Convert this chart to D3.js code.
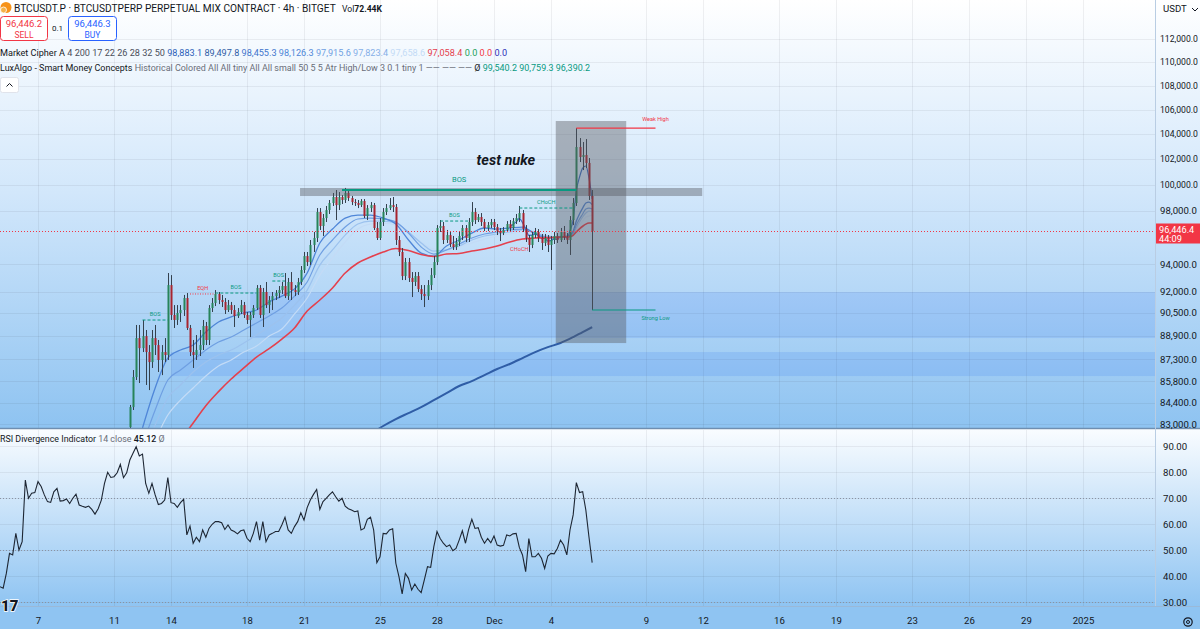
<!DOCTYPE html>
<html><head><meta charset="utf-8">
<script src="https://cdn.jsdelivr.net/npm/d3@7"></script>
<style>
html,body{margin:0;padding:0;background:#fff;overflow:hidden}
svg{display:block;font-family:Roboto,"Noto Sans",sans-serif}
</style></head><body>
<svg id="c" width="1200" height="629"></svg>
<script>
// ---------------- DATA ----------------
const candleStart = "2024-11-11T20:00:00Z";   // 4h bars
const opens = [82800,84100,86090,88740,88050,88880,87780,87100,88740,88260,
87240,87780,87580,92480,90350,90000,90490,90700,91550,89440,
87780,87580,87920,88260,89580,88610,90840,91200,91840,91410,
91270,90700,91050,90700,90280,90560,91050,90350,90000,90350,
90840,92270,90350,91980,91050,91410,91690,91910,92120,92410,
91690,92700,92120,91980,92700,93570,94590,94150,95410,95930,
97890,96830,97430,98040,98580,99040,98420,99040,98810,99350,
98960,98650,98580,98420,98730,97580,98190,98420,96680,95930,
97130,97890,98190,98420,98270,95780,94890,93130,94150,92990,
92700,93130,92190,91840,91690,92480,93200,94150,96680,96830,
95780,96150,95480,95260,95630,96080,96680,95930,97130,97890,
97280,97510,97130,96680,96900,97130,96750,96450,96300,96530,
96980,96680,97200,97430,97810,96600,95930,95410,96150,96380,
95930,95560,95930,95410,95780,96080,95780,96380,96000,95780,
97280,98580,102970,102170,102330,101700,99120];
const closes = [84100,86090,88740,88050,88880,87780,87100,88740,88260,87240,
87780,87580,92480,90350,90000,90490,90700,91550,89440,87780,
87580,87920,88260,89580,88610,90840,91200,91840,91410,91270,
90700,91050,90700,90280,90560,91050,90350,90000,90350,90840,
92270,90350,91980,91050,91410,91690,91910,92120,92410,91690,
92700,92120,91980,92700,93570,94590,94150,95410,95930,97890,
96830,97430,98040,98580,99040,98420,99040,98810,99350,98960,
98650,98580,98420,98730,97580,98190,98420,96680,95930,97130,
97890,98190,98420,98270,95780,94890,93130,94150,92990,92700,
93130,92190,91840,91690,92480,93200,94150,96680,96830,95780,
96150,95480,95260,95630,96080,96680,95930,97130,97890,97280,
97510,97130,96680,96900,97130,96750,96450,96300,96530,96980,
96680,97200,97430,97810,96600,95930,95410,96150,96380,95930,
95560,95930,95410,95780,96080,95780,96380,96000,95780,97280,
98580,102970,102170,102330,101700,99120,96446.4];
const highs = [84240,86560,89650,89650,90000,89300,88260,89300,89650,88610,
88260,88740,93350,93200,91050,91050,91050,91770,91910,89650,
88610,88950,89300,90000,89860,91050,91550,92120,91980,91770,
91550,91410,91270,91050,90840,91410,91270,90560,90560,91050,
92480,92480,92270,92700,91690,91980,92120,92410,92700,93350,
92990,93420,92480,92990,93860,94890,94890,95780,96380,98190,
98190,97740,98350,98810,99350,99580,99420,99190,99740,99580,
99120,98880,98810,98880,98880,98420,98650,98580,97130,97430,
98190,98500,98960,99040,98500,96080,95180,94450,94450,93420,
93420,93420,92480,92480,92840,93710,94590,96900,97280,97130,
96530,96380,96080,95930,96380,96900,96900,97430,98650,98190,
97740,97810,97360,97130,97360,97360,96980,96680,96750,97200,
97280,97430,97740,98350,98040,96900,96150,96380,96680,96600,
96230,96230,96150,96080,96380,96300,96680,96830,96300,97580,
98960,104500,103690,103370,103610,102090,99580];
const lows = [81970,83910,85890,85690,87780,85560,85220,86700,87580,86430,
86220,87100,87240,90000,89440,89650,89860,90280,89300,87510,
86700,87240,87510,87920,88260,88260,90560,90980,91120,90910,
90420,90560,90420,89510,90140,90420,90140,89720,88810,90140,
90700,90140,89510,90840,90490,90700,91410,91550,91840,91550,
91410,91410,91690,91770,92480,93350,93860,93930,94890,95630,
96530,96080,97130,97740,98350,97280,98040,98500,98580,98730,
98420,98350,98190,98270,97430,97280,97890,96530,95780,95780,
96830,97660,98040,97890,95410,94590,92840,92840,92700,91620,
92410,91980,91410,90910,91410,92120,92990,93930,96380,95480,
95560,95260,95040,95040,95330,95780,95630,95630,96830,96980,
97130,96830,96450,96450,96680,96530,96150,95700,96150,96380,
96380,96530,96980,97130,96380,95630,94890,95180,95930,95630,
95040,95330,94890,93570,95480,95560,95630,95780,95480,94670,
96900,98350,101770,101140,101300,98810,90700];

// Market Cipher A ribbon (bar index -> value)
const ribbonBars = [4,8,12,16,20,24,28,32,36,40,44,48,52,56,60,64,68,72,76,80,84,88,92,96,100,104,108,112,116,120,124,128,132,136,139,140,141,142,143,144,145,146];
const ema17 = [82740,85360,87370,87920,88260,89160,89860,90210,90490,90700,91270,91690,92190,93350,95560,96600,97430,97660,97660,97430,96980,95780,94810,94590,95330,95780,96300,96680,96600,96680,96750,96230,95930,96000,96150,96450,97200,97740,98190,98580,98650,98455.3];
const ema22 = [81650,83910,85890,86560,87240,87920,88470,88810,89300,89790,90280,90840,91690,92700,94670,95780,96750,97360,97430,97360,97130,96300,95260,94740,95040,95480,95930,96230,96380,96530,96600,96300,96000,96000,96080,96300,96900,97360,97740,98120,98190,98126.3];
const ema26 = [81020,82930,84700,85560,86430,87100,87580,87920,88400,88950,89510,90140,91050,92120,93930,95040,96150,96980,97200,97200,97050,96380,95560,94960,95040,95330,95780,96080,96230,96380,96530,96300,96080,96000,96040,96230,96680,97130,97510,97810,97960,97915.6];
const ema32 = [80390,81970,83580,84560,85360,86160,86830,87240,87780,88190,88880,89370,90420,91550,93200,94450,95630,96600,96980,97050,96900,96300,95630,95110,95040,95260,95560,95850,96080,96230,96380,96300,96080,96000,96000,96150,96530,96900,97200,97510,97580,97658.6];
const fastBars = [120,121,122,123,124,125,126,127,128,129,130,131,132,133,134,135,136,137,138,139,140,141,142,143,144,145,146];
const ema4 = [96770,96940,97140,97410,97080,96620,96130,96140,96230,96110,95890,95900,95700,95730,95870,95830,96050,96030,95930,96470,97300,99530,100580,101290,101460,100510,98883.1];
const ema50Bars = [16,20,24,28,32,36,40,44,48,52,56,60,64,68,72,76,80,84,88,92,96,100,104,108,112,116,120,124,128,132,136,139,140,141,142,143,144,145,146];
const ema50 = [81970,83060,84190,85120,85960,86700,87440,88010,88670,89440,90630,91410,92270,93350,94080,94520,94890,95150,95000,94700,94560,94740,94780,94960,95110,95330,95630,95850,95930,95960,95980,96030,96130,96390,96610,96810,96970,97050,97058.4];
const ema200Bars = [76,80,84,88,92,96,100,104,108,112,116,120,124,128,132,136,140,143,146];
const ema200 = [82350,82870,83320,83710,84100,84560,85020,85490,85820,86220,86630,86970,87370,87780,88120,88400,88810,89160,89497.8];

// RSI (14, close) per 4h bar
const rsiStart = "2024-11-05T00:00:00Z";
const rsiValues = [35.9,35.3,41.0,48.7,48.1,56.4,50.0,53.2,76.9,69.9,
71.8,72.1,76.3,74.4,71.2,68.6,68.3,72.4,73.7,68.8,
69.0,69.6,67.9,69.9,71.5,67.3,66.8,66.4,66.9,65.6,
63.8,65.9,69.2,75.6,79.9,77.9,78.2,79.7,82.9,77.8,
79.7,84.6,87.2,89.7,86.2,86.9,75.6,71.8,75.6,71.2,
67.5,67.9,69.2,77.9,68.2,67.9,66.4,68.2,69.5,55.8,
59.2,52.6,54.9,53.2,57.7,54.9,58.3,59.9,60.9,60.9,
60.5,57.9,59.6,57.7,57.1,56.2,57.4,57.7,54.5,53.2,
56.4,60.9,53.8,60.9,53.2,55.8,56.4,57.1,57.1,59.6,
62.6,57.7,56.4,59.0,60.9,64.3,61.5,66.3,69.2,71.4,
73.3,65.6,68.6,69.9,71.2,72.4,70.5,68.8,69.9,66.9,
65.9,65.4,64.7,65.0,57.7,58.3,61.8,62.6,57.7,45.1,
47.4,56.4,56.2,57.7,58.2,44.9,39.7,33.1,41.0,39.1,
34.6,36.9,34.9,33.6,38.5,43.6,43.3,51.3,57.1,54.4,
52.6,51.3,51.9,49.7,50.6,53.8,57.4,52.6,57.9,61.8,
58.3,58.6,54.9,52.6,54.4,52.8,55.4,51.9,51.5,51.8,
55.8,55.4,56.2,56.4,51.0,48.1,41.7,54.4,47.4,47.4,
48.7,46.8,42.9,47.7,48.7,48.5,50.6,53.8,51.9,48.1,
57.7,63.5,75.9,72.1,72.4,65.4,54.9,45.12];

// Axis ticks
const priceTicks = [112000,110000,108000,106000,104000,102000,100000,98000,94000,92000,90500,88900,87300,85800,84400,83000];
const rsiTicks = [90,80,70,60,50,40,30];
const rsiBands = [70,50,30];
const timeTicks = ["2024-11-07","2024-11-11","2024-11-14","2024-11-18","2024-11-21","2024-11-25","2024-11-28","2024-12-01","2024-12-04","2024-12-09","2024-12-12","2024-12-16","2024-12-19","2024-12-23","2024-12-26","2024-12-29","2025-01-01"];
const timeLabels = ["7","11","14","18","21","25","28","Dec","4","9","12","16","19","23","26","29","2025"];

// Smart Money Concepts structure levels
const smcKinds  = ["bos","eqh","bos","bos","bos","choch","bosMajor","weakHigh","strongLow"];
const smcFrom   = ["2024-11-12T12:00Z","2024-11-15T00:00Z","2024-11-16T08:00Z","2024-11-19T08:00Z","2024-11-28T04:00Z","2024-12-02T08:00Z","2024-11-23T00:00Z","2024-12-05T08:00Z","2024-12-06T04:00Z"];
const smcTo     = ["2024-11-13T20:00Z","2024-11-16T08:00Z","2024-11-18T12:00Z","2024-11-20T00:00Z","2024-11-29T16:00Z","2024-12-05T04:00Z","2024-12-05T08:00Z","2024-12-09T12:00Z","2024-12-09T12:00Z"];
const smcPrice  = [89996,91840,91908,92770,97204,98194,99579,104500,90700];
const smcLabels = ["BOS","EQH","BOS","BOS","BOS","CHoCH","BOS","Weak High","Strong Low"];
const chochBear = {at:"2024-12-02T08:00Z", price:95100, label:"CHoCH"};
// order-block zones (extend to the right)
const zoneFrom  = ["2024-11-18T04:00Z","2024-11-14T00:00Z"];
const zoneTop   = [91979,87782];
const zoneBot   = [88743,86157];
// user drawings
const boxFrom = "2024-12-04T06:00Z", boxTo = "2024-12-07T23:00Z", boxTop = 105074, boxBot = 88398;
const barFrom = "2024-11-20T19:00Z", barTo = "2024-12-11T23:00Z", barTop = 99735, barBot = 99116;
const noteText = "test nuke", noteAt = "2024-12-01T15:00Z", notePrice = 101900;
const lastPrice = 96446.4;

// ---------------- CHART ----------------
const W = 1200, H = 629, paneR = 1155, priceB = 428, rsiT = 430, rsiB = 606;
const svg = d3.select('#c');
const defs = svg.append('defs');
function grad(id, stops){
  const g = defs.append('linearGradient').attr('id',id).attr('x1',0).attr('y1',0).attr('x2',0).attr('y2',1);
  stops.forEach(([o,c]) => g.append('stop').attr('offset',o).attr('stop-color',c));
}
grad('gPrice', [[0,'#ffffff'],[0.45,'#d2e7fb'],[1,'#8ec3f1']]);
grad('gRsi', [[0,'#f9fcff'],[1,'#8fc4f2']]);
defs.append('clipPath').attr('id','cpP').append('rect').attr('x',0).attr('y',0).attr('width',paneR).attr('height',priceB);
defs.append('clipPath').attr('id','cpR').append('rect').attr('x',0).attr('y',rsiT).attr('width',paneR).attr('height',rsiB-rsiT);

svg.append('rect').attr('width',W).attr('height',priceB).attr('fill','url(#gPrice)');
svg.append('rect').attr('y',rsiT).attr('width',W).attr('height',rsiB-rsiT).attr('fill','url(#gRsi)');
svg.append('rect').attr('y',rsiB).attr('width',W).attr('height',H-rsiB).attr('fill','#8fc4f2');

const x = d3.scaleUtc().domain([new Date("2024-11-07T00:00:00Z"), new Date("2025-01-01T00:00:00Z")]).range([38,1083]);
const y = d3.scaleLog().domain([83000,112000]).range([424,39]);
const yr = d3.scaleLinear().domain([30,90]).range([602,446]);
const BAR = 4*3600*1000;
const t0 = new Date(candleStart).getTime();
const tR = new Date(rsiStart).getTime();
const bx = i => x(new Date(t0 + i*BAR));

// grids
const tickDates = timeTicks.map(d => new Date(d+"T00:00:00Z"));
const grid = svg.append('g').attr('stroke','rgba(42,46,57,0.07)').attr('stroke-width',1);
tickDates.forEach(d => {
  const xx = Math.round(x(d))+0.5;
  grid.append('line').attr('x1',xx).attr('x2',xx).attr('y1',0).attr('y2',priceB);
  grid.append('line').attr('x1',xx).attr('x2',xx).attr('y1',rsiT).attr('y2',rsiB);
});
priceTicks.forEach(p => {
  const yy = Math.round(y(p))+0.5;
  grid.append('line').attr('x1',0).attr('x2',paneR).attr('y1',yy).attr('y2',yy);
});
rsiTicks.forEach(v => {
  const yy = Math.round(yr(v))+0.5;
  grid.append('line').attr('x1',0).attr('x2',paneR).attr('y1',yy).attr('y2',yy);
});

const P = svg.append('g').attr('clip-path','url(#cpP)');
// zones
zoneFrom.forEach((f,i) => {
  P.append('rect').attr('x',x(new Date(f))).attr('width',paneR - x(new Date(f)))
   .attr('y',y(zoneTop[i])).attr('height',y(zoneBot[i])-y(zoneTop[i]))
   .attr('fill','rgba(49,121,245,0.16)');
});

// MA lines
const mk = (bars, vals) => bars.map((b,i) => [bx(b), y(vals[i])]);
const lineGen = d3.line().curve(d3.curveMonotoneX);
const maStyles = [
  [ribbonBars, ema32, '#c3dbf6', 1.2],
  [ribbonBars, ema26, '#9cc2ee', 1.2],
  [ribbonBars, ema22, '#6f9fe2', 1.2],
  [ribbonBars, ema17, '#4f86d8', 1.3],
  [fastBars, ema4, '#3a6fc6', 1.2],
  [ema50Bars, ema50, '#e4404d', 1.6],
  [ema200Bars, ema200, '#2f5da6', 2]
];
maStyles.forEach(([b,v,c,w]) => {
  P.append('path').attr('d', lineGen(mk(b,v))).attr('fill','none').attr('stroke',c).attr('stroke-width',w);
});

// candles
const cg = P.append('g');
closes.forEach((c,i) => {
  const xx = Math.round(bx(i));
  const up = c >= opens[i];
  const col = up ? '#27845a' : '#a8242f';
  cg.append('line').attr('x1',xx+0.5).attr('x2',xx+0.5).attr('y1',y(highs[i])).attr('y2',y(lows[i]))
    .attr('stroke','#34414e').attr('stroke-width',1);
  const yt = y(Math.max(c,opens[i])), yb = y(Math.min(c,opens[i]));
  cg.append('rect').attr('x',xx-0.5).attr('width',2).attr('y',yt).attr('height',Math.max(1,yb-yt)).attr('fill',col);
});

// user drawings
P.append('rect').attr('x',x(new Date(barFrom))).attr('width',x(new Date(barTo))-x(new Date(barFrom)))
 .attr('y',y(barTop)).attr('height',y(barBot)-y(barTop)).attr('fill','rgba(85,88,96,0.42)');
P.append('rect').attr('x',x(new Date(boxFrom))).attr('width',x(new Date(boxTo))-x(new Date(boxFrom)))
 .attr('y',y(boxTop)).attr('height',y(boxBot)-y(boxTop)).attr('fill','rgba(85,88,96,0.42)');

// SMC structure
const teal = '#089981', red = '#f23645';
smcKinds.forEach((k,i) => {
  const x1 = x(new Date(smcFrom[i])), x2 = x(new Date(smcTo[i])), yy = y(smcPrice[i]);
  const col = (k==='eqh'||k==='weakHigh') ? red : teal;
  const ln = P.append('line').attr('x1',x1).attr('x2',x2).attr('y1',yy).attr('y2',yy).attr('stroke',col);
  if (k==='bos'||k==='choch') ln.attr('stroke-dasharray','3,2').attr('stroke-width',1);
  else if (k==='eqh') ln.attr('stroke-dasharray','1,1.5').attr('stroke-width',1);
  else if (k==='bosMajor') ln.attr('stroke-width',2);
  else ln.attr('stroke-width',1.2);
  let lx = (x1+x2)/2, ly = yy-4, fs = 5.6;
  if (k==='bosMajor') { ly = yy-8; fs = 7.5; }
  if (k==='weakHigh') { lx = x2; ly = yy-7; }
  if (k==='strongLow') { lx = x2; ly = yy+10; }
  P.append('text').attr('x',lx).attr('y',ly).attr('text-anchor','middle').attr('font-size',fs)
   .attr('fill',col).text(smcLabels[i]);
});
P.append('text').attr('x',x(new Date(chochBear.at))).attr('y',y(chochBear.price)+2).attr('text-anchor','middle')
 .attr('font-size',5.6).attr('fill',red).text(chochBear.label);

P.append('text').attr('x',x(new Date(noteAt))).attr('y',y(notePrice)).attr('dy','0.35em').attr('text-anchor','middle')
 .attr('font-size',14.5).attr('font-weight',700).attr('font-style','italic').attr('fill','#131722').text(noteText);

// last price line
const lpY = Math.round(y(lastPrice))+0.5;
svg.append('line').attr('x1',0).attr('x2',paneR).attr('y1',lpY).attr('y2',lpY)
  .attr('stroke',red).attr('stroke-width',1).attr('stroke-dasharray','1,2');

// RSI pane
const R = svg.append('g').attr('clip-path','url(#cpR)');
rsiBands.forEach(v => {
  const yy = Math.round(yr(v))+0.5;
  R.append('line').attr('x1',0).attr('x2',paneR).attr('y1',yy).attr('y2',yy)
   .attr('stroke','#8a93a3').attr('stroke-width',1).attr('stroke-dasharray','1,2');
});
R.append('path').attr('d', d3.line()(rsiValues.map((v,i) => [x(new Date(tR + i*BAR)), yr(v)])))
 .attr('fill','none').attr('stroke','#1d2633').attr('stroke-width',1.1);

// separators
svg.append('line').attr('x1',0).attr('x2',W).attr('y1',428.5).attr('y2',428.5).attr('stroke','#6f8eb0').attr('stroke-width',1.5);
svg.append('line').attr('x1',paneR+0.5).attr('x2',paneR+0.5).attr('y1',0).attr('y2',rsiB).attr('stroke','#b9cde3').attr('stroke-width',1);
svg.append('line').attr('x1',0).attr('x2',W).attr('y1',rsiB+0.5).attr('y2',rsiB+0.5).attr('stroke','#9ab9d8').attr('stroke-width',1);

// axes
const fmtP = d3.format(',.1f');
const ay = svg.append('g').attr('transform',`translate(${paneR},0)`)
  .call(d3.axisRight(y).tickValues(priceTicks).tickFormat(fmtP).tickSize(0).tickPadding(5));
const ar = svg.append('g').attr('transform',`translate(${paneR},0)`)
  .call(d3.axisRight(yr).tickValues(rsiTicks).tickFormat(d3.format('.2f')).tickSize(0).tickPadding(8));
const ax = svg.append('g').attr('transform',`translate(0,${rsiB+7})`)
  .call(d3.axisBottom(x).tickValues(tickDates).tickFormat((d,i) => timeLabels[i]).tickSize(0).tickPadding(4));
[ay,ar,ax].forEach(a => { a.select('.domain').remove();
  a.selectAll('text').attr('fill','#131722').attr('font-size',9.6).attr('font-family','Roboto,"Noto Sans",sans-serif'); });
// keep price labels inside the frame
ay.selectAll('text').each(function(){ const s = d3.select(this); const w = this.getComputedTextLength();
  if (w > 38) s.attr('font-size', 9.6*38/w); });

// last price badge
svg.append('rect').attr('x',paneR+1).attr('y',lpY-8).attr('width',W-paneR-1).attr('height',20).attr('fill',red);
svg.append('text').attr('x',paneR+4).attr('y',lpY+1).attr('font-size',9.2).attr('fill','#fff').text(fmtP(lastPrice));
svg.append('text').attr('x',paneR+4).attr('y',lpY+10).attr('font-size',9.2).attr('fill','#fff').text('44:09');

// top-right currency
svg.append('text').attr('x',1163).attr('y',12).attr('font-size',9.6).attr('fill','#131722').text('USDT');
svg.append('path').attr('d','M1192,8 l3,3 l3,-3').attr('fill','none').attr('stroke','#131722').attr('stroke-width',1);

// gear icon bottom right
svg.append('circle').attr('cx',1188).attr('cy',622).attr('r',4.2).attr('fill','none').attr('stroke','#131722').attr('stroke-width',1.2);
svg.append('circle').attr('cx',1188).attr('cy',622).attr('r',1.5).attr('fill','none').attr('stroke','#131722').attr('stroke-width',1);

// TV logo
svg.append('text').attr('x',1).attr('y',611).attr('font-size',15).attr('font-weight',900).attr('fill','#131722')
  .attr('stroke','#fff').attr('stroke-width',1.5).attr('paint-order','stroke').text('17');

// ---------------- LEGENDS ----------------
function fit(sel, w){ const cw = sel.node().getComputedTextLength(); sel.attr('font-size', parseFloat(sel.attr('font-size'))*w/cw); }
svg.append('circle').attr('cx',6).attr('cy',7.5).attr('r',5.5).attr('fill','#f7931a');
svg.append('circle').attr('cx',3.5).attr('cy',10).attr('r',3).attr('fill','#f4b24a').attr('stroke','#fff').attr('stroke-width',0.8);
const t1 = svg.append('text').attr('x',14).attr('y',12).attr('font-size',11.5).attr('fill','#131722')
  .text('BTCUSDT.P · BTCUSDTPERP PERPETUAL MIX CONTRACT · 4h · BITGET');
fit(t1, 322);
const vol = svg.append('text').attr('x',342).attr('y',12).attr('font-size',9).attr('fill','#131722');
vol.append('tspan').text('Vol');
vol.append('tspan').attr('font-weight',700).text('72.44K');
fit(vol, 40);

// sell / buy
svg.append('rect').attr('x',0.5).attr('y',16.5).attr('width',47).attr('height',24).attr('rx',3).attr('fill','#fff').attr('stroke','#f23645');
svg.append('text').attr('x',24).attr('y',27).attr('text-anchor','middle').attr('font-size',9.5).attr('fill','#f23645').text('96,446.2');
svg.append('text').attr('x',24).attr('y',37.5).attr('text-anchor','middle').attr('font-size',8.5).attr('fill','#f23645').text('SELL');
svg.append('text').attr('x',57.5).attr('y',31).attr('text-anchor','middle').attr('font-size',8).attr('fill','#131722').text('0.1');
svg.append('rect').attr('x',68.5).attr('y',16.5).attr('width',48).attr('height',24).attr('rx',3).attr('fill','#fff').attr('stroke','#2962ff');
svg.append('text').attr('x',92.5).attr('y',27).attr('text-anchor','middle').attr('font-size',9.5).attr('fill','#2962ff').text('96,446.3');
svg.append('text').attr('x',92.5).attr('y',37.5).attr('text-anchor','middle').attr('font-size',8.5).attr('fill','#2962ff').text('BUY');

// Market Cipher legend
const mcVals = [['98,883.1','#2c5fb9'],['89,497.8','#2f5da6'],['98,455.3','#3f74cc'],['98,126.3','#4f86d8'],['97,915.6','#6f9fe2'],['97,823.4','#86afe8'],['97,658.6','#c3dbf6'],['97,058.4','#e4404d'],['0.0','#22a05a'],['0.0','#f23645'],['0.0','#2b2fb8']];
const mc = svg.append('text').attr('x',0).attr('y',56).attr('font-size',10.5).attr('fill','#131722');
mc.append('tspan').text('Market Cipher A ');
mc.append('tspan').attr('fill','#4a4e5a').text('4 200 17 22 26 28 32 50 ');
mcVals.forEach(([v,c]) => mc.append('tspan').attr('fill',c).text(' '+v));
fit(mc, 508);

const lux = svg.append('text').attr('x',0).attr('y',71).attr('font-size',10.5).attr('fill','#131722');
lux.append('tspan').text('LuxAlgo - Smart Money Concepts ');
lux.append('tspan').attr('fill','#6a6d78').text('Historical Colored All All tiny All All small 50 5 5 Atr High/Low 3 0.1 tiny 1 —— —— —— ');
lux.append('tspan').attr('fill','#131722').text(' Ø ');
[['99,540.2'],['90,759.3'],['96,390.2']].forEach(([v]) => lux.append('tspan').attr('fill','#089981').text(' '+v));
fit(lux, 591);

// collapse button
svg.append('rect').attr('x',0.5).attr('y',77.5).attr('width',18).attr('height',15).attr('rx',2).attr('fill','#fff').attr('stroke','#e0e3eb');
svg.append('path').attr('d','M6.5,86.5 l3,-3 l3,3').attr('fill','none').attr('stroke','#131722').attr('stroke-width',1);

// RSI legend
const rl = svg.append('text').attr('x',0).attr('y',442).attr('font-size',10.5).attr('fill','#131722');
rl.append('tspan').text('RSI Divergence Indicator ');
rl.append('tspan').attr('fill','#6a6d78').text('14 close ');
rl.append('tspan').attr('fill','#131722').attr('font-weight',500).text(' 45.12 ');
rl.append('tspan').attr('fill','#6a6d78').text(' Ø');
fit(rl, 165);
</script>
</body></html>
